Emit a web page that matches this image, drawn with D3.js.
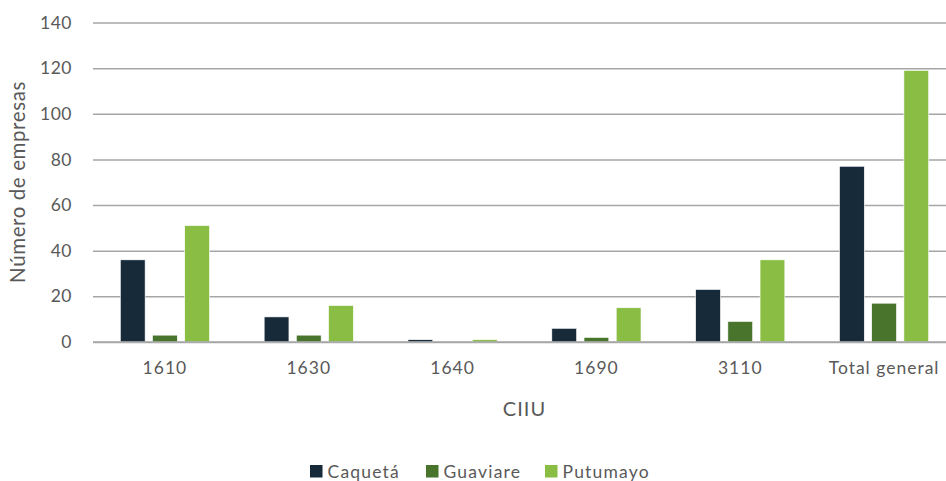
<!DOCTYPE html>
<html>
<head>
<meta charset="utf-8">
<script src="https://cdn.jsdelivr.net/npm/d3@7"></script>
<style>
  body { margin: 0; background: #fff; }
  text { font-family: Lato, "Open Sans", sans-serif; fill: #595959; }
</style>
</head>
<body>
<div class="chart"></div>
<script>
// data
const categories = ['1610', '1630', '1640', '1690', '3110', 'Total general'];
const seriesNames = ['Caquetá', 'Guaviare', 'Putumayo'];
const caqueta  = [36, 11, 1, 6, 23, 77];
const guaviare = [3, 3, 0, 2, 9, 17];
const putumayo = [51, 16, 1, 15, 36, 119];
const yTicks = [0, 20, 40, 60, 80, 100, 120, 140];
const seriesColors = ['#172a3a', '#48742c', '#8abd43'];

const seriesValues = [caqueta, guaviare, putumayo];
const rows = categories.map((c, i) => ({
    cat: c,
    vals: seriesNames.map((s, j) => ({ name: s, value: seriesValues[j][i] }))
}));

const width = 946, height = 481;
const plot = { left: 93, right: 956, top: 22.5, bottom: 342 };
const fontSize = 17;

const svg = d3.select('.chart')
              .append('svg')
              .attr('width', width)
              .attr('height', height);

const x0 = d3.scaleBand()
             .domain(categories)
             .range([plot.left, plot.right])
             .paddingInner(0.38)
             .paddingOuter(0.19);

const x1 = d3.scaleBand()
             .domain(seriesNames)
             .range([0, x0.bandwidth()])
             .paddingInner(0.23);

const yScale = d3.scaleLinear()
                 .domain([0, 140])
                 .range([plot.bottom, plot.top]);

const colorScale = d3.scaleOrdinal()
                     .domain(seriesNames)
                     .range(seriesColors);

// y axis with gridlines
const yAxis = d3.axisLeft(yScale)
                .tickValues(yTicks)
                .tickSize(-(plot.right - plot.left))
                .tickPadding(21);

const yG = svg.append('g')
              .attr('class', 'axis y-axis')
              .attr('transform', `translate(${plot.left},0)`)
              .call(yAxis);
yG.select('.domain').remove();
yG.selectAll('line').attr('stroke', '#a6a6a6').attr('stroke-width', 1.5);
yG.selectAll('text').attr('font-size', 17.5).attr('fill', '#595959').attr('letter-spacing', 0.5);

// bars
const groups = svg.selectAll('g.group')
                  .data(rows)
                  .enter()
                  .append('g')
                  .attr('class', 'group')
                  .attr('transform', d => `translate(${x0(d.cat)},0)`);

groups.selectAll('rect')
      .data(d => d.vals)
      .enter()
      .append('rect')
      .attr('x', d => x1(d.name))
      .attr('width', x1.bandwidth())
      .attr('y', d => yScale(d.value))
      .attr('height', d => yScale(0) - yScale(d.value))
      .attr('fill', d => colorScale(d.name))
      .attr('stroke', '#ffffff')
      .attr('stroke-width', 0.6);

// redraw baseline on top
svg.append('line')
   .attr('x1', plot.left)
   .attr('x2', plot.right)
   .attr('y1', yScale(0))
   .attr('y2', yScale(0))
   .attr('stroke', '#a6a6a6')
   .attr('stroke-width', 1.5);

// x axis labels
const xAxis = d3.axisBottom(x0)
                .tickSize(0)
                .tickPadding(20);

const xG = svg.append('g')
              .attr('class', 'axis x-axis')
              .attr('transform', `translate(0,${plot.bottom})`)
              .call(xAxis);
xG.select('.domain').remove();
xG.selectAll('text').attr('font-size', 17.5).attr('fill', '#595959').attr('letter-spacing', 1);

// axis titles
svg.append('text')
   .attr('x', (plot.left + plot.right) / 2)
   .attr('y', 416)
   .attr('text-anchor', 'middle')
   .attr('font-size', 20)
   .attr('letter-spacing', 1)
   .text('CIIU');

svg.append('text')
   .attr('transform', `translate(25,182) rotate(-90)`)
   .attr('text-anchor', 'middle')
   .attr('font-size', 20.5)
   .attr('letter-spacing', 0.6)
   .text('Número de empresas');

// legend
const legendX = [310, 426, 545];
const legend = svg.append('g')
                  .attr('transform', 'translate(0,465)');

legend.selectAll('rect')
      .data(seriesNames)
      .enter()
      .append('rect')
      .attr('x', (d, i) => legendX[i])
      .attr('y', 0)
      .attr('width', 12.5)
      .attr('height', 12.5)
      .attr('fill', d => colorScale(d));

legend.selectAll('text')
      .data(seriesNames)
      .enter()
      .append('text')
      .attr('x', (d, i) => legendX[i] + 17.5)
      .attr('y', 12.5)
      .attr('font-size', 17.5)
      .attr('letter-spacing', 1.2)
      .text(d => d);
</script>
</body>
</html>
